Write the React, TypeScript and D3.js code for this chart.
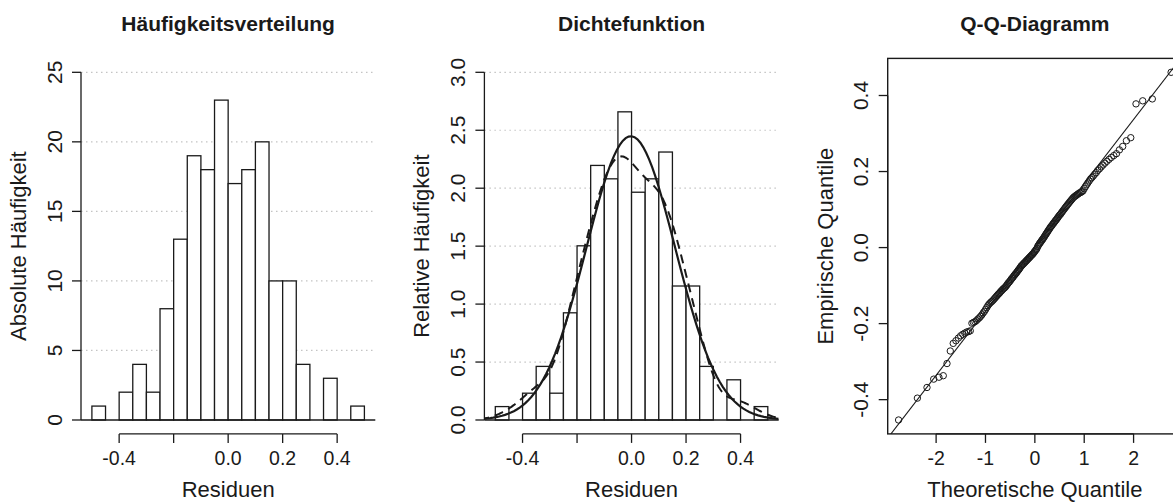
import React from 'react';
import * as d3 from 'd3';

// ---------- data ----------
// sorted residuals (n = 173)
const residuals = [
  -0.4535, -0.396, -0.368, -0.346, -0.341, -0.337, -0.305, -0.272, -0.252,
  -0.245, -0.238, -0.232, -0.228, -0.225, -0.222, -0.221, -0.219,
  -0.199, -0.197, -0.195, -0.192, -0.188, -0.185, -0.181, -0.177, -0.172, -0.168, -0.163, -0.158, -0.153,
  -0.149, -0.146, -0.143, -0.141, -0.138, -0.135, -0.132, -0.129, -0.126, -0.123, -0.121, -0.118, -0.115, -0.113, -0.110, -0.108, -0.106, -0.104, -0.101,
  -0.098, -0.095, -0.092, -0.090, -0.087, -0.084, -0.081, -0.079, -0.076, -0.073, -0.071, -0.068, -0.066, -0.063, -0.060, -0.058, -0.055, -0.052,
  -0.049, -0.047, -0.045, -0.043, -0.041, -0.039, -0.037, -0.035, -0.033, -0.031, -0.029, -0.027, -0.025, -0.023, -0.021, -0.019, -0.017, -0.015, -0.012, -0.010, -0.007, -0.005, -0.002,
  0.003, 0.006, 0.009, 0.012, 0.014, 0.017, 0.020, 0.022, 0.025, 0.028, 0.031, 0.034, 0.037, 0.040, 0.043, 0.046, 0.049,
  0.052, 0.055, 0.057, 0.060, 0.063, 0.065, 0.068, 0.071, 0.073, 0.076, 0.079, 0.082, 0.085, 0.087, 0.090, 0.093, 0.096, 0.099,
  0.102, 0.105, 0.108, 0.111, 0.114, 0.117, 0.120, 0.123, 0.126, 0.129, 0.132, 0.134, 0.136, 0.138, 0.140, 0.142, 0.144, 0.145, 0.147, 0.149,
  0.155, 0.160, 0.165, 0.170, 0.175, 0.180, 0.184, 0.188, 0.193, 0.197,
  0.203, 0.207, 0.212, 0.217, 0.222, 0.227, 0.232, 0.237, 0.242, 0.247,
  0.257, 0.266, 0.281, 0.289,
  0.378, 0.386, 0.391,
  0.461,
];

// histogram: counts per bin of width 0.05 starting at -0.5
const binCounts = [1, 0, 2, 4, 2, 8, 13, 19, 18, 23, 17, 18, 20, 10, 10, 4, 0, 3, 0, 1];
const binStart = -0.5;
const binWidth = 0.05;
const histRange = [-0.5, 0.5];

const histTicksY = [0, 5, 10, 15, 20, 25];
const histTickLabelsY = ['0', '5', '10', '15', '20', '25'];
const densTicksY = [0, 0.5, 1, 1.5, 2, 2.5, 3];
const densTickLabelsY = ['0.0', '0.5', '1.0', '1.5', '2.0', '2.5', '3.0'];
const resTicksX = [-0.4, -0.2, 0, 0.2, 0.4];
const resTickLabelsX = ['-0.4', '', '0.0', '0.2', '0.4'];
const qqTicksX = [-2, -1, 0, 1, 2];
const qqTickLabelsX = ['-2', '-1', '0', '1', '2'];
const qqTicksY = [-0.4, -0.2, 0, 0.2, 0.4];
const qqTickLabelsY = ['-0.4', '-0.2', '0.0', '0.2', '0.4'];

const titles = ['Häufigkeitsverteilung', 'Dichtefunktion', 'Q-Q-Diagramm'];
const xTitles = ['Residuen', 'Residuen', 'Theoretische Quantile'];
const yTitles = ['Absolute Häufigkeit', 'Relative Häufigkeit', 'Empirische Quantile'];

// ---------- layout ----------
const W = 1173;
const H = 503;
const PLOT_TOP = 58.4;
const PLOT_BOTTOM = 433.9;
const PLOT_W = 294.3;
const PANEL_LEFT = [81, 484.4, 887.7];
const FONT = "'Liberation Sans', Arial, Helvetica, sans-serif";
const INK = '#1a1a1a';
const XTICK_FS = 19.5;
const YTICK_FS = 21;
const LAB_FS = 22;
const MAIN_FS = 21;

// ---------- helpers ----------
const ext = (a: number, b: number): [number, number] => [a - 0.04 * (b - a), b + 0.04 * (b - a)];

function qnorm(p: number): number {
  const a = [-3.969683028665376e1, 2.209460984245205e2, -2.759285104469687e2, 1.38357751867269e2, -3.066479806614716e1, 2.506628277459239];
  const b = [-5.447609879822406e1, 1.615858368580409e2, -1.556989798598866e2, 6.680131188771972e1, -1.328068155288572e1];
  const c = [-7.784894002430293e-3, -3.223964580411365e-1, -2.400758277161838, -2.549732539343734, 4.374664141464968, 2.938163982698783];
  const d = [7.784695709041462e-3, 3.224671290700398e-1, 2.445134137142996, 3.754408661907416];
  const pl = 0.02425;
  if (p < pl) {
    const q = Math.sqrt(-2 * Math.log(p));
    return (((((c[0] * q + c[1]) * q + c[2]) * q + c[3]) * q + c[4]) * q + c[5]) / ((((d[0] * q + d[1]) * q + d[2]) * q + d[3]) * q + 1);
  }
  if (p <= 1 - pl) {
    const q = p - 0.5;
    const r = q * q;
    return ((((((a[0] * r + a[1]) * r + a[2]) * r + a[3]) * r + a[4]) * r + a[5]) * q) / (((((b[0] * r + b[1]) * r + b[2]) * r + b[3]) * r + b[4]) * r + 1);
  }
  const q = Math.sqrt(-2 * Math.log(1 - p));
  return -(((((c[0] * q + c[1]) * q + c[2]) * q + c[3]) * q + c[4]) * q + c[5]) / ((((d[0] * q + d[1]) * q + d[2]) * q + d[3]) * q + 1);
}

const dnorm = (x: number, m: number, s: number) => Math.exp(-0.5 * ((x - m) / s) ** 2) / (s * Math.sqrt(2 * Math.PI));

// ---------- derived statistics ----------
const sorted = residuals.slice().sort(d3.ascending);
const N = sorted.length;
const mean = d3.mean(sorted) as number;
const sd = d3.deviation(sorted) as number;
const iqr = (d3.quantileSorted(sorted, 0.75) as number) - (d3.quantileSorted(sorted, 0.25) as number);
const bw = 0.9 * Math.min(sd, iqr / 1.34) * Math.pow(N, -0.2);
const nTotal = d3.sum(binCounts);

const kdeGrid = d3.range(512).map((i) => sorted[0] - 3 * bw + (i * (sorted[N - 1] - sorted[0] + 6 * bw)) / 511);
const kdePts: [number, number][] = kdeGrid.map((x) => [x, d3.mean(sorted, (v) => dnorm(x, v, bw)) as number]);

const theo = sorted.map((_, i) => qnorm((i + 0.5) / N));
const yq1 = d3.quantileSorted(sorted, 0.25) as number;
const yq3 = d3.quantileSorted(sorted, 0.75) as number;
const xq1 = qnorm(0.25);
const xq3 = qnorm(0.75);
const qqSlope = (yq3 - yq1) / (xq3 - xq1);
const qqInt = yq1 - qqSlope * xq1;

// ---------- components ----------
function Text(props: any) {
  return <text fontFamily={FONT} fill={INK} {...props} />;
}

function Frame({ i, xs, ys, xTicks, xLabels, yTicks, yLabels }: any) {
  const left = PANEL_LEFT[i];
  const cx = left + PLOT_W / 2;
  const cy = (PLOT_TOP + PLOT_BOTTOM) / 2;
  return (
    <g>
      <Text x={cx} y={30.5} fontSize={MAIN_FS} fontWeight="bold" textAnchor="middle">{titles[i]}</Text>
      {/* x axis */}
      <line x1={xs(xTicks[0])} x2={xs(xTicks[xTicks.length - 1])} y1={PLOT_BOTTOM} y2={PLOT_BOTTOM} stroke={INK} strokeWidth={1.3} />
      {xTicks.map((t: number, k: number) => (
        <g key={'xt' + k}>
          <line x1={xs(t)} x2={xs(t)} y1={PLOT_BOTTOM} y2={PLOT_BOTTOM + 9} stroke={INK} strokeWidth={1.3} />
          <Text x={xs(t)} y={PLOT_BOTTOM + 31.5} fontSize={XTICK_FS} textAnchor="middle">{xLabels[k]}</Text>
        </g>
      ))}
      {/* y axis */}
      <line x1={left} x2={left} y1={ys(yTicks[0])} y2={ys(yTicks[yTicks.length - 1])} stroke={INK} strokeWidth={1.3} />
      {yTicks.map((t: number, k: number) => (
        <g key={'yt' + k}>
          <line x1={left - 9} x2={left} y1={ys(t)} y2={ys(t)} stroke={INK} strokeWidth={1.3} />
          <Text transform={`translate(${left - 19.5},${ys(t)}) rotate(-90)`} fontSize={YTICK_FS} textAnchor="middle">{yLabels[k]}</Text>
        </g>
      ))}
      <Text x={cx} y={497} fontSize={LAB_FS} textAnchor="middle">{xTitles[i]}</Text>
      <Text transform={`translate(${left - 55},${cy}) rotate(-90)`} fontSize={LAB_FS} textAnchor="middle">{yTitles[i]}</Text>
    </g>
  );
}

function HistPanel({ i, density }: { i: number; density: boolean }) {
  const left = PANEL_LEFT[i];
  const xs = d3.scaleLinear().domain(ext(histRange[0], histRange[1])).range([left, left + PLOT_W]);
  const yTicks = density ? densTicksY : histTicksY;
  const yLabels = density ? densTickLabelsY : histTickLabelsY;
  const ys = d3.scaleLinear().domain(ext(0, yTicks[yTicks.length - 1])).range([PLOT_BOTTOM, PLOT_TOP]);
  const vals = binCounts.map((c) => (density ? c / (nTotal * binWidth) : c));
  const clipId = 'clip' + i;
  const xDom = xs.domain();
  const normPts: [number, number][] = d3.range(101).map((k) => {
    const x = xDom[0] + (k * (xDom[1] - xDom[0])) / 100;
    return [x, dnorm(x, mean, sd)];
  });
  const line = d3.line<[number, number]>().x((d) => xs(d[0])).y((d) => ys(d[1]));
  return (
    <g>
      <defs>
        <clipPath id={clipId}>
          <rect x={left} y={PLOT_TOP} width={PLOT_W} height={PLOT_BOTTOM - PLOT_TOP} />
        </clipPath>
      </defs>
      {yTicks.slice(1).map((t, k) => (
        <line key={'g' + k} x1={left} x2={left + PLOT_W} y1={ys(t)} y2={ys(t)} stroke="#c4c4c4" strokeWidth={1.2} strokeDasharray="1.5 3.5" />
      ))}
      {vals.map((v, k) =>
        v > 0 ? (
          <rect
            key={'b' + k}
            x={xs(binStart + k * binWidth)}
            y={ys(v)}
            width={xs(binStart + (k + 1) * binWidth) - xs(binStart + k * binWidth)}
            height={ys(0) - ys(v)}
            fill="#fff"
            stroke={INK}
            strokeWidth={1.3}
          />
        ) : null
      )}
      <line x1={left} x2={left + PLOT_W} y1={ys(0)} y2={ys(0)} stroke={INK} strokeWidth={1.3} />
      {density ? (
        <g clipPath={`url(#${clipId})`}>
          <path d={line(kdePts) as string} fill="none" stroke={INK} strokeWidth={2} strokeDasharray="9 6" />
          <path d={line(normPts) as string} fill="none" stroke={INK} strokeWidth={2.2} />
        </g>
      ) : null}
      <Frame i={i} xs={xs} ys={ys} xTicks={resTicksX} xLabels={resTickLabelsX} yTicks={yTicks} yLabels={yLabels} />
    </g>
  );
}

function QQPanel() {
  const i = 2;
  const left = PANEL_LEFT[i];
  const xs = d3.scaleLinear().domain(ext(theo[0], theo[N - 1])).range([left, left + PLOT_W]);
  const ys = d3.scaleLinear().domain(ext(sorted[0], sorted[N - 1])).range([PLOT_BOTTOM, PLOT_TOP]);
  const xd = xs.domain();
  const clipId = 'clipqq';
  return (
    <g>
      <defs>
        <clipPath id={clipId}>
          <rect x={left} y={PLOT_TOP} width={PLOT_W} height={PLOT_BOTTOM - PLOT_TOP} />
        </clipPath>
      </defs>
      <g clipPath={`url(#${clipId})`}>
        <line
          x1={xs(xd[0])}
          x2={xs(xd[1])}
          y1={ys(qqInt + qqSlope * xd[0])}
          y2={ys(qqInt + qqSlope * xd[1])}
          stroke={INK}
          strokeWidth={1.1}
        />
      </g>
      {sorted.map((v, k) => (
        <circle key={'p' + k} cx={xs(theo[k])} cy={ys(v)} r={3.2} fill="none" stroke={INK} strokeWidth={1} />
      ))}
      <rect x={left} y={PLOT_TOP} width={PLOT_W} height={PLOT_BOTTOM - PLOT_TOP} fill="none" stroke={INK} strokeWidth={1.4} />
      <Frame i={i} xs={xs} ys={ys} xTicks={qqTicksX} xLabels={qqTickLabelsX} yTicks={qqTicksY} yLabels={qqTickLabelsY} />
    </g>
  );
}

export default function App() {
  return (
    <svg width={W} height={H} viewBox={`0 0 ${W} ${H}`} style={{ position: 'absolute', left: 0, top: 0, background: '#fff' }}>
      <rect x={0} y={0} width={W} height={H} fill="#fff" />
      <HistPanel i={0} density={false} />
      <HistPanel i={1} density={true} />
      <QQPanel />
    </svg>
  );
}
